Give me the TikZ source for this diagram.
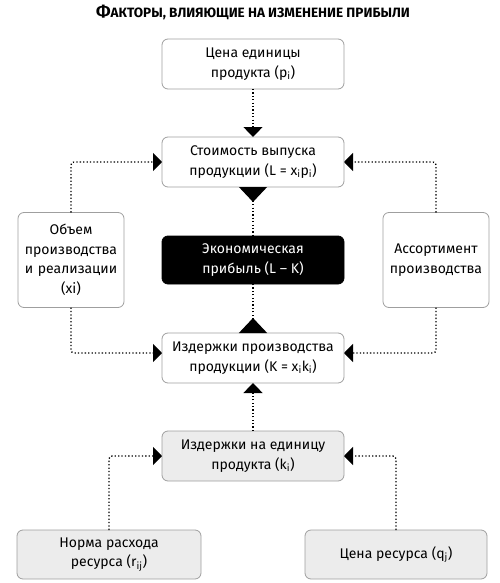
\documentclass[tikz,border=0pt]{standalone}
\usepackage{fontspec}
\setmainfont{Fira Sans}
\usetikzlibrary{arrows.meta,positioning}

\begin{document}
\begin{tikzpicture}[x=1pt, y=-1pt,
  box/.style={draw=gray!75, line width=0.8pt, rounded corners=6pt, fill=white, minimum width=182pt, minimum height=50pt, align=center, font=\fontsize{14}{19.5}\selectfont, inner sep=2pt, outer sep=0pt},
  sidebox/.style={box, minimum width=106pt, minimum height=95pt, text width=102pt},
  unitbox/.style={box, fill=gray!15},
  profitbox/.style={box, fill=black, draw=black, text=white, minimum height=48pt},
  conn/.style={line width=1.3pt, dash pattern=on 1.3pt off 2.1pt, rounded corners=3pt},
  tip/.style={conn, -{Triangle[length=9pt, width=18pt]}},
  bigtip/.style={conn, {Triangle[reversed, length=15pt, width=28pt]}-},
  node distance=48pt and 38pt
]
  \useasboundingbox (0,0) rectangle (500,583);

  % Title
  \node[font=\bfseries] (title) at (253,12) {{\fontsize{17}{18}\selectfont Ф}{\fontsize{13.5}{15}\selectfont АКТОРЫ, ВЛИЯЮЩИЕ НА ИЗМЕНЕНИЕ ПРИБЫЛИ}};

  % Central column
  \node[box] (price) at (253,64) {Цена единицы\\продукта (p\textsubscript{i})};
  \node[box, below=of price] (output) {Стоимость выпуска\\продукции (L = x\textsubscript{i}p\textsubscript{i})};
  \node[profitbox, below=49pt of output] (profit) {Экономическая\\прибыль (L – K)};
  \node[box, below=49pt of profit] (costs) {Издержки производства\\продукции (K = x\textsubscript{i}k\textsubscript{i})};
  \node[unitbox, below=of costs] (unitcost) {Издержки на единицу\\продукта (k\textsubscript{i})};

  % Side factors
  \node[sidebox, left=of profit] (volume) {Объем\\производства\\и реализации\\(xi)};
  \node[sidebox, right=39pt of profit] (range) {Ассортимент\\производства};

  % Resources
  \node[unitbox, minimum width=184pt, minimum height=49pt, below=49pt of unitcost, xshift=-144pt] (norm) {Норма расхода\\ресурса (r\textsubscript{ij})};
  \node[unitbox, minimum height=49pt, below=49pt of unitcost, xshift=143pt] (resprice) {Цена ресурса (q\textsubscript{j})};

  % Connectors
  \draw[tip, -{Triangle[length=10pt, width=19pt]}] (price) -- (output);
  \draw[bigtip] (output) -- (profit);
  \draw[bigtip] (costs) -- (profit);
  \draw[tip, -{Triangle[length=10pt, width=19pt]}] (unitcost) -- (costs);
  \draw[tip] (volume.north) |- (output.west);
  \draw[tip] (volume.south) |- ([yshift=5pt]costs.west);
  \draw[tip] (range.north) |- (output.east);
  \draw[tip] (range.south) |- ([yshift=5pt]costs.east);
  \draw[tip] (norm.north) |- (unitcost.west);
  \draw[tip] (resprice.north) |- (unitcost.east);
\end{tikzpicture}
\end{document}
